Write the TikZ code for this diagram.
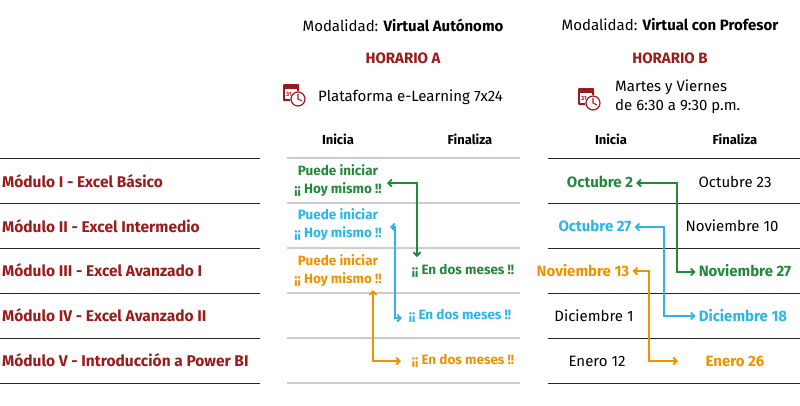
\documentclass[tikz,border=0pt]{standalone}
\usepackage{fontspec}
\setmainfont{Fira Sans}
\usetikzlibrary{arrows.meta}
\definecolor{dred}{HTML}{9B1B1B}
\definecolor{gr}{HTML}{23893A}
\definecolor{bl}{HTML}{2BB5E8}
\definecolor{orn}{HTML}{F29100}
\begin{document}
\begin{tikzpicture}[x=1pt,y=-1pt,
  mod/.style={anchor=west,font=\fontsize{15.5}{18}\selectfont\bfseries,text=dred,inner sep=0},
  hd/.style={font=\fontsize{13}{15}\selectfont\bfseries,inner sep=0},
  tx/.style={font=\fontsize{15}{17}\selectfont,inner sep=0},
  tb/.style={font=\fontsize{15}{17}\selectfont\bfseries,inner sep=0},
  sm/.style={font=\fontsize{13.5}{18}\selectfont\bfseries,inner sep=0,align=center},
  dl/.style={line width=1pt,black!85},
  gl/.style={line width=1.2pt,black!20},
  arr/.style={line width=1.8pt,{Straight Barb[length=3.5pt,width=7pt]}-{Straight Barb[length=3.5pt,width=7pt]}}]
\useasboundingbox (0,0) rectangle (800,405);
% headers
\node[tx] (mA) at (403,25) {Modalidad: \textbf{Virtual Autónomo}};
\node[tx] (mB) at (670,25) {Modalidad: \textbf{Virtual con Profesor}};
\node[tb,text=dred] (hA) at (403,58) {HORARIO A};
\node[tb,text=dred] (hB) at (670,58) {HORARIO B};
\node[tx,anchor=west] (pA) at (318,97) {Plataforma e-Learning 7x24};
\node[tx,anchor=west,align=left,font=\fontsize{15}{19}\selectfont] (pB) at (615,97) {Martes y Viernes\\de 6:30 a 9:30 p.m.};
% icons
\foreach \ix/\iy in {283/84,578/88}{
  \fill[dred,rounded corners=1pt] (\ix,\iy) rectangle ++(16,17);
  \fill[white] (\ix+2,\iy+5) rectangle ++(12,10);
  \node[inner sep=0,font=\fontsize{6}{6}\selectfont\bfseries,text=dred] at (\ix+6,\iy+10) {31};
  \fill[white] (\ix+15,\iy+15) circle (8);
  \draw[dred,line width=1.2pt] (\ix+15,\iy+15) circle (7);
  \draw[dred,line width=1.1pt] (\ix+15,\iy+10) -- (\ix+15,\iy+15) -- (\ix+19,\iy+17);
}
% column headers
\node[hd] (iA) at (338,139) {Inicia};
\node[hd] (fA) at (470,139) {Finaliza};
\node[hd] (iB) at (611,139) {Inicia};
\node[hd] (fB) at (735,139) {Finaliza};
% lines
\foreach \y in {158,203,248,293,338,383}{
  \draw[dl] (0,\y) -- (260,\y);
  \draw[gl] (287,\y) -- (520,\y);
  \draw[dl] (548,\y) -- (800,\y);
}
% modules
\node[mod] (m1) at (2,181) {Módulo I - Excel Básico};
\node[mod] (m2) at (2,226) {Módulo II - Excel Intermedio};
\node[mod] (m3) at (2,270) {Módulo III - Excel Avanzado I};
\node[mod] (m4) at (2,315) {Módulo IV - Excel Avanzado II};
\node[mod] (m5) at (2,360) {Módulo V - Introducción a Power BI};
% horario A
\node[sm,text=gr] (a1) at (338,181) {Puede iniciar\\¡¡ Hoy mismo !!};
\node[sm,text=bl] (a2) at (338,225) {Puede iniciar\\¡¡ Hoy mismo !!};
\node[sm,text=orn] (a3) at (338,271) {Puede iniciar\\¡¡ Hoy mismo !!};
\node[sm,text=gr] (e1) at (463,271) {¡¡ En dos meses !!};
\node[sm,text=bl] (e2) at (460,316) {¡¡ En dos meses !!};
\node[sm,text=orn] (e3) at (463,361) {¡¡ En dos meses !!};
\coordinate (ga) at (387,183); \coordinate (gb) at (417,183); \coordinate (gc) at (417,257);
\draw[arr,gr] (ga) -- (gb) -- (gc);
\coordinate (ba) at (390,227); \coordinate (bb) at (395,227); \coordinate (bc) at (395,318); \coordinate (bd) at (402,318);
\draw[arr,bl] (ba) -- (bb) -- (bc) -- (bd);
\coordinate (oa) at (373,290); \coordinate (ob) at (373,361); \coordinate (oc) at (401,361);
\draw[arr,orn] (oa) -- (ob) -- (oc);
% horario B
\node[tb,text=gr] (b1) at (600,182) {Octubre 2};
\node[tx] (c1) at (735,182) {Octubre 23};
\node[tb,text=bl] (b2) at (595,226) {Octubre 27};
\node[tx] (c2) at (732,226) {Noviembre 10};
\node[tb,text=orn] (b3) at (583,271) {Noviembre 13};
\node[tb,text=gr] (c3) at (745,271) {Noviembre 27};
\node[tx] (b4) at (594,316) {Diciembre 1};
\node[tb,text=bl] (c4) at (743,316) {Diciembre 18};
\node[tx] (b5) at (597,361) {Enero 12};
\node[tb,text=orn] (c5) at (735,361) {Enero 26};
\draw[arr,gr] ([xshift=3pt]b1.east |- 0,183) -- (677,183) -- (677,272) -- ([xshift=-3pt]c3.west |- 0,272);
\draw[arr,bl] ([xshift=3pt]b2.east |- 0,227) -- (664,227) -- (664,316) -- ([xshift=-3pt]c4.west |- 0,316);
\draw[arr,orn] ([xshift=3pt]b3.east |- 0,271) -- (649,271) -- (649,361) -- (678,361);
\end{tikzpicture}
\end{document}
